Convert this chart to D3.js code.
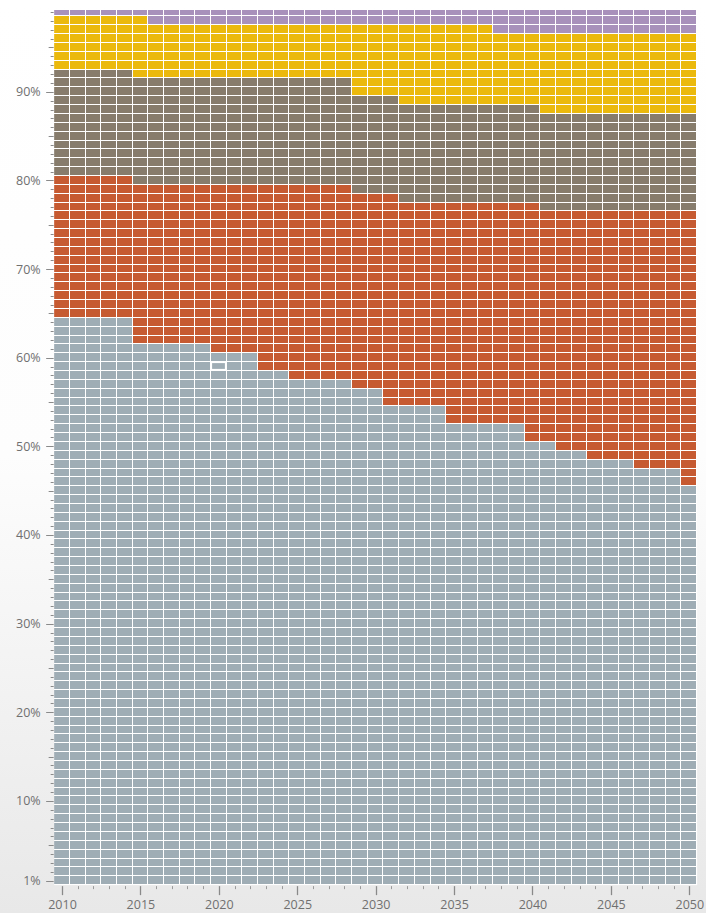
<!DOCTYPE html>
<html>
<head>
<meta charset="utf-8">
<script src="https://cdn.jsdelivr.net/npm/d3@7"></script>
<style>
  html, body { margin: 0; padding: 0; }
  body { width: 706px; height: 913px; overflow: hidden; }
  .tick text { font-family: "Open Sans", sans-serif; font-size: 12.5px; fill: #707070; }
</style>
</head>
<body>
<div id="chart"></div>
<script>
// years on the x axis, one column each
var years = [2010, 2011, 2012, 2013, 2014, 2015, 2016, 2017, 2018, 2019,
             2020, 2021, 2022, 2023, 2024, 2025, 2026, 2027, 2028, 2029,
             2030, 2031, 2032, 2033, 2034, 2035, 2036, 2037, 2038, 2039,
             2040, 2041, 2042, 2043, 2044, 2045, 2046, 2047, 2048, 2049, 2050];

// highest percentile reached by each band, bottom to top, per year
var slateTop = [64, 64, 64, 64, 64, 61, 61, 61, 61, 61,
                60, 60, 60, 58, 58, 57, 57, 57, 57, 56,
                56, 54, 54, 54, 54, 52, 52, 52, 52, 52,
                50, 50, 49, 49, 48, 48, 48, 47, 47, 47, 45];
var rustTop  = [80, 80, 80, 80, 80, 79, 79, 79, 79, 79,
                79, 79, 79, 79, 79, 79, 79, 79, 79, 78,
                78, 78, 77, 77, 77, 77, 77, 77, 77, 77,
                77, 76, 76, 76, 76, 76, 76, 76, 76, 76, 76];
var taupeTop = [92, 92, 92, 92, 92, 91, 91, 91, 91, 91,
                91, 91, 91, 91, 91, 91, 91, 91, 91, 89,
                89, 89, 88, 88, 88, 88, 88, 88, 88, 88,
                88, 87, 87, 87, 87, 87, 87, 87, 87, 87, 87];
var goldTop  = [98, 98, 98, 98, 98, 98, 97, 97, 97, 97,
                97, 97, 97, 97, 97, 97, 97, 97, 97, 97,
                97, 97, 97, 97, 97, 97, 97, 97, 96, 96,
                96, 96, 96, 96, 96, 96, 96, 96, 96, 96, 96];
var lilacTop = [100, 100, 100, 100, 100, 100, 100, 100, 100, 100,
                100, 100, 100, 100, 100, 100, 100, 100, 100, 100,
                100, 100, 100, 100, 100, 100, 100, 100, 100, 100,
                100, 100, 100, 100, 100, 100, 100, 100, 100, 100, 100];

var bands = ["slate", "rust", "taupe", "gold", "lilac"],
    bandTops = [slateTop, rustTop, taupeTop, goldTop, lilacTop],
    colors = ["#9fadb5", "#c65a31", "#877c6c", "#ebb90c", "#a891bb"];

var percentiles = d3.range(1, 101),
    xLabels = [2010, 2015, 2020, 2025, 2030, 2035, 2040, 2045, 2050],
    yLabels = [1, 10, 20, 30, 40, 50, 60, 70, 80, 90];

var hovered = {year: 2020, p: 59};

var width = 706, height = 913;

var x = d3.scaleLinear()
    .domain([2010, 2050])
    .range([62, 689.3]);

var y = d3.scaleLinear()
    .domain([1, 99])
    .range([880.7, 12]);

var color = d3.scaleOrdinal().domain(bands).range(colors);

var plotLeft = x(2009.5), plotRight = x(2050.5),
    plotTop = 10, plotBottom = y(0.5);

var svg = d3.select("#chart").append("svg")
    .attr("width", width)
    .attr("height", height);

var grad = svg.append("defs").append("linearGradient")
    .attr("id", "bg")
    .attr("x1", 0).attr("y1", 0).attr("x2", 0).attr("y2", 1);
grad.append("stop").attr("offset", "0").attr("stop-color", "#ffffff");
grad.append("stop").attr("offset", "0.5").attr("stop-color", "#fdfdfd");
grad.append("stop").attr("offset", "1").attr("stop-color", "#e8e8e8");

svg.select("defs").append("clipPath")
    .attr("id", "plot-clip")
  .append("rect")
    .attr("x", plotLeft)
    .attr("y", plotTop)
    .attr("width", plotRight - plotLeft)
    .attr("height", plotBottom - plotTop);

svg.append("rect")
    .attr("width", width)
    .attr("height", height)
    .attr("fill", "url(#bg)");

svg.append("rect")
    .attr("x", plotLeft)
    .attr("y", plotTop)
    .attr("width", plotRight - plotLeft)
    .attr("height", plotBottom - plotTop)
    .attr("fill", "#fff");

function bandOf(i, p) {
    for (var b = 0; b < bands.length; b++) {
        if (p <= bandTops[b][i]) return bands[b];
    }
    return bands[bands.length - 1];
}

var cells = [];
years.forEach(function(yr, i) {
    percentiles.forEach(function(p) {
        cells.push({year: yr, p: p, band: bandOf(i, p)});
    });
});

var grid = svg.append("g").attr("clip-path", "url(#plot-clip)");

grid.selectAll("rect")
    .data(cells)
  .enter().append("rect")
    .attr("x", function(d) {return Math.round(x(d.year - 0.5))})
    .attr("y", function(d) {return Math.round(y(d.p + 0.5))})
    .attr("width", function(d) {return Math.round(x(d.year + 0.5)) - Math.round(x(d.year - 0.5)) - 1})
    .attr("height", function(d) {return Math.round(y(d.p - 0.5)) - Math.round(y(d.p + 0.5)) - 1})
    .attr("fill", function(d) {return color(d.band)})
    .attr("shape-rendering", "crispEdges");

// the cell under the pointer gets a white outline
grid.append("rect")
    .attr("x", Math.round(x(hovered.year - 0.5)) + 0.5)
    .attr("y", Math.round(y(hovered.p + 0.5)) + 0.5)
    .attr("width", Math.round(x(hovered.year + 0.5)) - Math.round(x(hovered.year - 0.5)) - 2)
    .attr("height", Math.round(y(hovered.p - 0.5)) - Math.round(y(hovered.p + 0.5)) - 2)
    .attr("fill", "none")
    .attr("stroke", "#fff")
    .attr("stroke-width", 1.2);

// x axis: a long tick every 5 years, short ones in between
var xAxis = svg.append("g")
    .attr("transform", "translate(0," + (plotBottom + 1) + ")");

xAxis.selectAll("line")
    .data(years)
  .enter().append("line")
    .attr("x1", function(d) {return Math.round(x(d)) + 0.5})
    .attr("x2", function(d) {return Math.round(x(d)) + 0.5})
    .attr("y1", 0)
    .attr("y2", function(d) {return xLabels.indexOf(d) > -1 ? 9 : 3})
    .attr("stroke", function(d) {return xLabels.indexOf(d) > -1 ? "#8a8a8a" : "#9a9a9a"})
    .attr("stroke-width", function(d) {return xLabels.indexOf(d) > -1 ? 1.3 : 1});

xAxis.append("g")
    .attr("transform", "translate(0,23)")
    .call(d3.axisBottom(x).tickValues(xLabels).tickFormat(d3.format("d")).tickSize(0).tickPadding(0))
    .call(function(g) {g.select(".domain").remove()})
    .selectAll("text")
    .attr("dy", 0);

// y axis: every percentile gets a tick, 5s are longer, labels at 1 and each 10
var yAxis = svg.append("g")
    .attr("transform", "translate(" + (plotLeft - 0.5) + ",0)");

yAxis.selectAll("line")
    .data(d3.range(1, 100))
  .enter().append("line")
    .attr("y1", function(d) {return Math.round(y(d)) + 0.5})
    .attr("y2", function(d) {return Math.round(y(d)) + 0.5})
    .attr("x1", function(d) {return yLabels.indexOf(d) > -1 ? -7.5 : d % 5 == 0 ? -5 : -3})
    .attr("x2", 0)
    .attr("stroke", "#8a8a8a")
    .attr("stroke-width", 1);

yAxis.append("g")
    .attr("transform", "translate(-13,0)")
    .call(d3.axisLeft(y).tickValues(yLabels).tickFormat(function(d) {return d + "%"}).tickSize(0).tickPadding(0))
    .call(function(g) {g.select(".domain").remove()});
</script>
</body>
</html>
